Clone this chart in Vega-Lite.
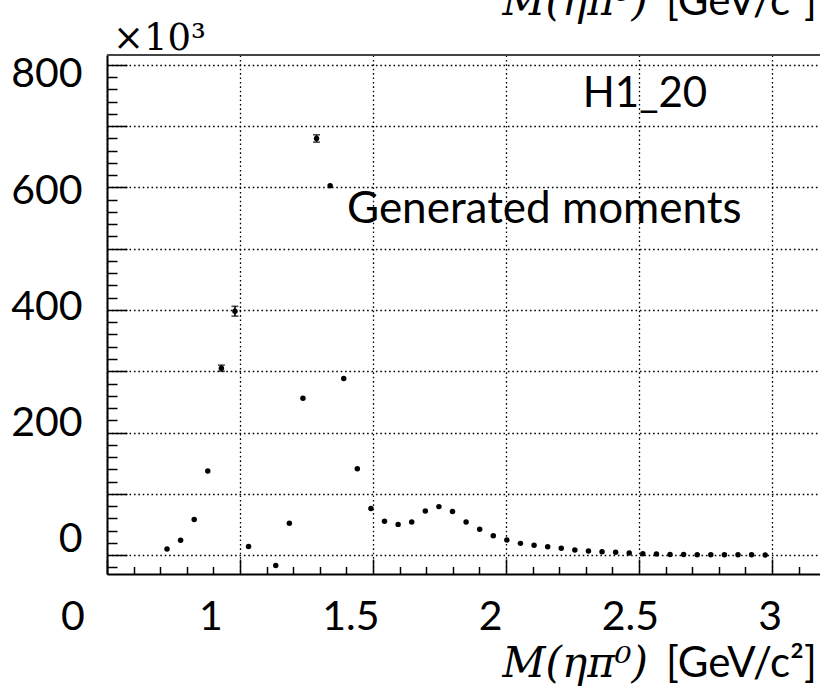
{
  "$schema": "https://vega.github.io/schema/vega-lite/v6.json",
  "autosize": {"type": "none"},
  "padding": {"left": 107, "top": 55, "right": 0, "bottom": 114},
  "width": 713,
  "height": 519,
  "background": "white",
  "config": {"view": {"stroke": null}},
  "data": {"values": [
    {"m": 0.7256, "n": 10},
    {"m": 0.7767, "n": 24},
    {"m": 0.8278, "n": 58},
    {"m": 0.8789, "n": 137},
    {"m": 0.9300, "n": 305, "err": 5},
    {"m": 0.9811, "n": 398, "err": 8},
    {"m": 1.0322, "n": 14},
    {"m": 1.1344, "n": -17},
    {"m": 1.1856, "n": 52},
    {"m": 1.2367, "n": 256},
    {"m": 1.2878, "n": 680, "err": 6},
    {"m": 1.3389, "n": 603},
    {"m": 1.3900, "n": 288},
    {"m": 1.4411, "n": 141},
    {"m": 1.4922, "n": 76},
    {"m": 1.5433, "n": 55},
    {"m": 1.5944, "n": 50},
    {"m": 1.6456, "n": 54},
    {"m": 1.6967, "n": 72},
    {"m": 1.7478, "n": 79},
    {"m": 1.7989, "n": 71},
    {"m": 1.8500, "n": 54},
    {"m": 1.9011, "n": 42},
    {"m": 1.9522, "n": 31.5},
    {"m": 2.0033, "n": 24.5},
    {"m": 2.0544, "n": 19},
    {"m": 2.1056, "n": 15.8},
    {"m": 2.1567, "n": 13.6},
    {"m": 2.2078, "n": 10.9},
    {"m": 2.2589, "n": 8.2},
    {"m": 2.3100, "n": 6.5},
    {"m": 2.3611, "n": 5.4},
    {"m": 2.4122, "n": 4.4},
    {"m": 2.4633, "n": 3.3},
    {"m": 2.5144, "n": 2.2},
    {"m": 2.5656, "n": 1.5},
    {"m": 2.6167, "n": 1.0},
    {"m": 2.6678, "n": 0.8},
    {"m": 2.7189, "n": 0.6},
    {"m": 2.7700, "n": 0.5},
    {"m": 2.8211, "n": 0.4},
    {"m": 2.8722, "n": 0.3},
    {"m": 2.9233, "n": 0.3},
    {"m": 2.9744, "n": 0.2}
  ]},
  "resolve": {
    "scale": {"x": "independent", "y": "independent"},
    "axis": {"x": "independent", "y": "independent"}
  },
  "layer": [
    {
      "encoding": {
        "x": {
          "field": "m", "type": "quantitative",
          "scale": {"domain": [0.5, 3.1805], "nice": false, "zero": false},
          "axis": {
            "orient": "bottom", "title": null, "labels": false,
            "values": [0.5,0.6,0.7,0.8,0.9,1,1.1,1.2,1.3,1.4,1.5,1.6,1.7,1.8,1.9,2,2.1,2.2,2.3,2.4,2.5,2.6,2.7,2.8,2.9,3,3.1],
            "grid": true,
            "gridOpacity": {"condition": {"test": "abs(datum.value*2 - round(datum.value*2)) < 0.01", "value": 1}, "value": 0},
            "gridDash": [1.6, 2.8], "gridColor": "#000", "gridWidth": 1.3,
            "ticks": true,
            "tickSize": {"condition": {"test": "abs(datum.value*2 - round(datum.value*2)) < 0.01", "value": -15}, "value": -7.5},
            "tickColor": "black", "tickWidth": 1.5,
            "domain": true, "domainColor": "black", "domainWidth": 2
          }
        },
        "y": {
          "field": "n", "type": "quantitative",
          "scale": {"domain": [-31, 816.3], "nice": false, "zero": false},
          "axis": {
            "orient": "left", "title": null, "labels": false,
            "values": [-20,0,20,40,60,80,100,120,140,160,180,200,220,240,260,280,300,320,340,360,380,400,420,440,460,480,500,520,540,560,580,600,620,640,660,680,700,720,740,760,780,800],
            "grid": true,
            "gridOpacity": {"condition": {"test": "abs(datum.value/100 - round(datum.value/100)) < 0.01", "value": 1}, "value": 0},
            "gridDash": [1.6, 2.8], "gridColor": "#000", "gridWidth": 1.3,
            "ticks": true,
            "tickSize": {"condition": {"test": "abs(datum.value/100 - round(datum.value/100)) < 0.01", "value": -20}, "value": -10},
            "tickColor": "black", "tickWidth": 1.5,
            "domain": true, "domainColor": "black", "domainWidth": 2
          }
        }
      },
      "layer": [
        {
          "transform": [{"filter": "isValid(datum.err)"}],
          "mark": {"type": "errorbar", "color": "black", "thickness": 1.6, "ticks": {"size": 7, "thickness": 1.6, "color": "black"}},
          "encoding": {"yError": {"field": "err"}}
        },
        {
          "mark": {"type": "point", "filled": true, "color": "black", "size": 30, "opacity": 1}
        }
      ]
    },
    {
      "data": {"values": [{}]},
      "layer": [
        {
          "mark": {"type": "text", "text": "H1_20", "font": "Lato", "fontSize": 42, "align": "center", "baseline": "alphabetic", "color": "black"},
          "encoding": {
            "x": {"datum": 2.554, "type": "quantitative",
              "scale": {"domain": [0.6298, 3.1799], "nice": false, "zero": false},
              "axis": {
                "orient": "bottom", "title": null, "domain": false, "ticks": false, "tickSize": 0, "grid": false,
                "values": [0.635, 1, 1.5, 2, 2.5, 3],
                "labelExpr": "datum.value < 0.7 ? '0' : format(datum.value, '~g')",
                "labelOffset": {"condition": {"test": "datum.value < 0.7", "value": -36}, "value": 0},
                "labelFont": "Lato", "labelFontSize": 41, "labelColor": "black",
                "labelPadding": 23, "labelBaseline": "top",
                "labelFlush": false, "labelOverlap": false, "labelBound": false
              }
            },
            "y": {"datum": 744.9, "type": "quantitative",
              "scale": {"domain": [-58.5, 834.4], "nice": false, "zero": false},
              "axis": {
                "orient": "left", "title": null, "domain": false, "ticks": false, "tickSize": 0, "grid": false,
                "values": [0, 200, 400, 600, 800],
                "labelExpr": "format(datum.value, '~g')",
                "labelFont": "Lato", "labelFontSize": 41, "labelColor": "black",
                "labelPadding": 25, "labelFlush": false, "labelOverlap": false, "labelBound": false
              }
            }
          }
        },
        {
          "mark": {"type": "text", "text": "Generated moments", "font": "Lato", "fontSize": 44, "align": "left", "baseline": "alphabetic", "color": "black"},
          "encoding": {
            "x": {"datum": 1.4882, "type": "quantitative", "scale": {"domain": [0.6298, 3.1799], "nice": false, "zero": false}},
            "y": {"datum": 545.4, "type": "quantitative", "scale": {"domain": [-58.5, 834.4], "nice": false, "zero": false}}
          }
        },
        {
          "mark": {"type": "text", "text": "×10³", "font": "DejaVu Serif", "fontSize": 37, "align": "left", "baseline": "alphabetic", "color": "black"},
          "encoding": {
            "x": {"datum": 0.651, "type": "quantitative", "scale": {"domain": [0.6298, 3.1799], "nice": false, "zero": false}},
            "y": {"datum": 843, "type": "quantitative", "scale": {"domain": [-58.5, 834.4], "nice": false, "zero": false}}
          }
        },
        {
          "mark": {"type": "text", "text": "M(ηπ⁰)", "font": "DejaVu Serif", "fontStyle": "italic", "fontSize": 42, "align": "right", "baseline": "alphabetic", "color": "black"},
          "encoding": {
            "x": {"datum": 2.5647, "type": "quantitative", "scale": {"domain": [0.6298, 3.1799], "nice": false, "zero": false}},
            "y": {"datum": 903.2, "type": "quantitative", "scale": {"domain": [-58.5, 834.4], "nice": false, "zero": false}}
          }
        },
        {
          "mark": {"type": "text", "text": "[GeV/c²]", "font": "Lato", "fontSize": 42, "align": "right", "baseline": "alphabetic", "color": "black"},
          "encoding": {
            "x": {"datum": 3.169, "type": "quantitative", "scale": {"domain": [0.6298, 3.1799], "nice": false, "zero": false}},
            "y": {"datum": 903.2, "type": "quantitative", "scale": {"domain": [-58.5, 834.4], "nice": false, "zero": false}}
          }
        },
        {
          "mark": {"type": "text", "text": "M(ηπ⁰)", "font": "DejaVu Serif", "fontStyle": "italic", "fontSize": 42, "align": "right", "baseline": "alphabetic", "color": "black"},
          "encoding": {
            "x": {"datum": 2.5647, "type": "quantitative", "scale": {"domain": [0.6298, 3.1799], "nice": false, "zero": false}},
            "y": {"datum": -235.7, "type": "quantitative", "scale": {"domain": [-58.5, 834.4], "nice": false, "zero": false}}
          }
        },
        {
          "mark": {"type": "text", "text": "[GeV/c²]", "font": "Lato", "fontSize": 42, "align": "right", "baseline": "alphabetic", "color": "black"},
          "encoding": {
            "x": {"datum": 3.169, "type": "quantitative", "scale": {"domain": [0.6298, 3.1799], "nice": false, "zero": false}},
            "y": {"datum": -235.7, "type": "quantitative", "scale": {"domain": [-58.5, 834.4], "nice": false, "zero": false}}
          }
        },
        {
          "mark": {"type": "rule", "color": "#444", "strokeWidth": 2},
          "encoding": {
            "y": {"datum": 834.4, "type": "quantitative", "scale": {"domain": [-58.5, 834.4], "nice": false, "zero": false}}
          }
        }
      ]
    }
  ]
}
